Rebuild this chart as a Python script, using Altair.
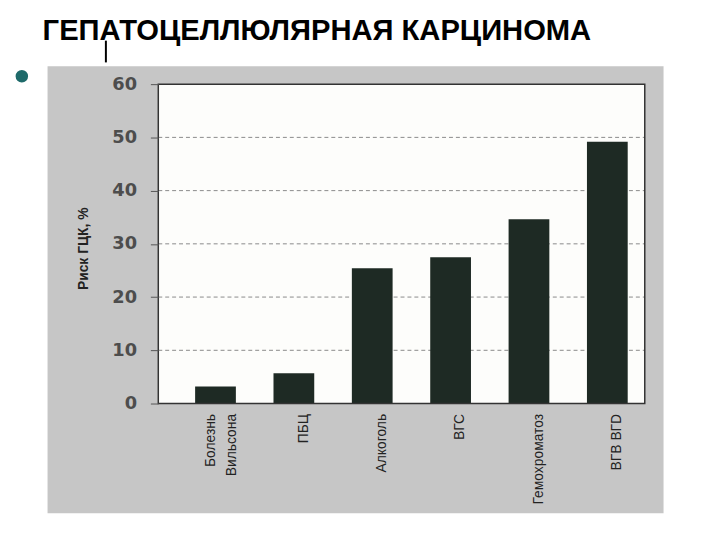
import altair as alt
import pandas as pd

categories = ["Болезнь Вильсона", "ПБЦ", "Алкоголь", "ВГС", "Гемохроматоз", "ВГВ ВГD"]
risk = [3.2, 5.7, 25.4, 27.5, 34.6, 49.2]
y_ticks = [0, 10, 20, 30, 40, 50, 60]
grid_values = [10, 20, 30, 40, 50]
title_text = "ГЕПАТОЦЕЛЛЮЛЯРНАЯ КАРЦИНОМА"
y_title = "Риск ГЦК, %"

df = pd.DataFrame({"cat": categories, "risk": risk})
grid_df = pd.DataFrame({"risk": grid_values})
one = pd.DataFrame({"k": [0]})

W, H = 492, 323
yscale = alt.Scale(domain=[0, 60], nice=False)
xscale = alt.Scale(domain=categories, range=[0, 512], paddingInner=0.48, paddingOuter=0.47)

y_axis = alt.Axis(values=y_ticks, grid=False, domain=False, tickSize=8, tickColor="#555555",
                  labelPadding=14, labelFont="DejaVu Sans", labelFontWeight="bold",
                  labelFontSize=18, labelColor="#4d4d4d", zindex=1,
                  titleFont="Liberation Sans", titleFontSize=14, titleFontWeight="bold",
                  titleColor="#222222", titleX=-76, titleY=166, titleAngle=270,
                  titleAlign="center", titleBaseline="middle")

gray = alt.Chart(one).mark_rect(color="#c6c6c6", clip=False).encode(
    x=alt.value(-112), x2=alt.value(511), y=alt.value(-18), y2=alt.value(434)
)
white = alt.Chart(one).mark_rect(color="#fdfdfb", clip=False).encode(
    x=alt.value(0), x2=alt.value(W), y=alt.value(0), y2=alt.value(H)
)
grid = alt.Chart(grid_df).mark_rule(color="#8a8a8a", strokeDash=[4, 3], strokeWidth=1).encode(
    y=alt.Y("risk:Q", scale=yscale, title=y_title, axis=y_axis),
    x=alt.value(0), x2=alt.value(W),
)
bars = alt.Chart(df).mark_bar(color="#1e2a24").encode(
    x=alt.X("cat:N", scale=xscale, sort=categories, title=None,
            axis=alt.Axis(labelAngle=270, labelAlign="right", labelBaseline="middle",
                          labelPadding=10, tickSize=0, domain=False, zindex=1,
                          labelFont="Liberation Sans", labelFontSize=14, labelColor="#222222",
                          labelLineHeight=22,
                          labelExpr="datum.label == 'Болезнь Вильсона' ? ['Болезнь', 'Вильсона'] : datum.label",
                          labelOffset={"condition": {"test": "datum.value == 'Болезнь Вильсона'", "value": -5}, "value": 10})),
    y=alt.Y("risk:Q", scale=yscale, title=y_title, axis=y_axis),
)
frame = alt.Chart(one).mark_rect(fillOpacity=0, stroke="#333333", strokeWidth=1.5, clip=False).encode(
    x=alt.value(0), x2=alt.value(W), y=alt.value(0), y2=alt.value(H)
)
bullet = alt.Chart(one).mark_point(filled=True, shape="circle", size=160, color="#1e6a6a",
                                   opacity=1, clip=False).encode(
    x=alt.value(-138), y=alt.value(-8)
)
stick = alt.Chart(one).mark_rule(color="#000000", strokeWidth=2, clip=False).encode(
    x=alt.value(-53), y=alt.value(-44), y2=alt.value(-22)
)

chart = alt.layer(gray, white, grid, bars, frame, bullet, stick).properties(
    width=W, height=H,
    autosize=alt.AutoSizeParams(type="none"),
    padding={"left": 152, "top": 74, "right": 68, "bottom": 135},
    title=alt.TitleParams(title_text, anchor="start", frame="group", dx=-117, dy=11,
                          font="Liberation Sans", fontSize=29.5, fontWeight="bold", color="#000000"),
).configure_view(stroke=None).configure(background="#ffffff")

chart.save("out.html", embed_options={"renderer": "svg", "actions": False})
